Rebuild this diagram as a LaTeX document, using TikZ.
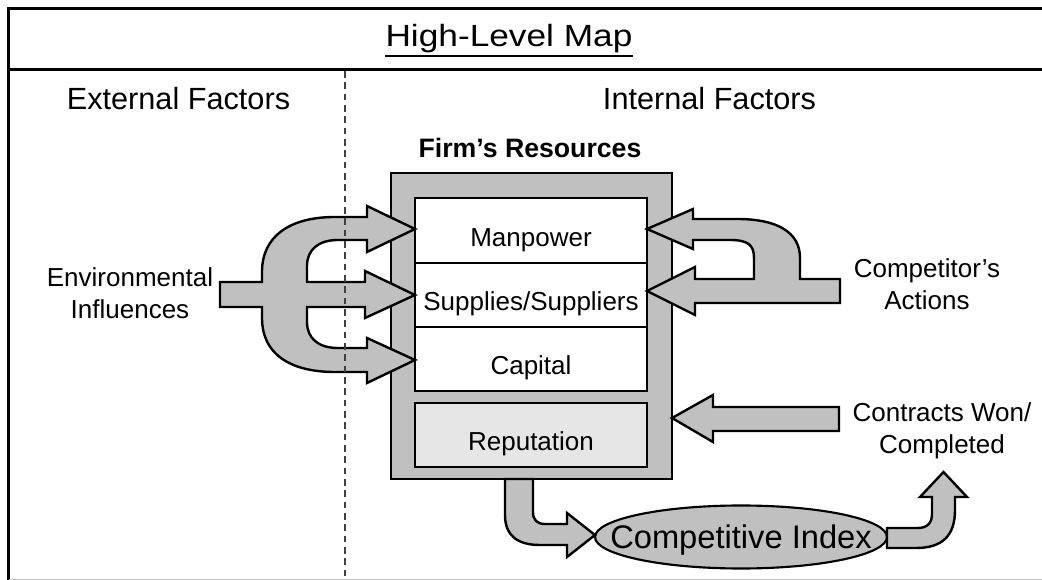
\documentclass[tikz,border=0pt]{standalone}
\usepackage{fontspec}
\setmainfont{Liberation Sans}
\usetikzlibrary{shapes.geometric}
\definecolor{boxgrey}{HTML}{C0C0C0}
\definecolor{repgrey}{HTML}{E6E6E6}
\newcommand{\boxtxt}[1]{\raisebox{-12pt}[0pt][0pt]{#1}}
\begin{document}
\begin{tikzpicture}[x=0.75pt,y=-0.75pt,
  blockarrow/.style={draw=black, fill=boxgrey, line width=1.8pt, line join=miter},
  resbox/.style={draw=black, line width=1.6pt, minimum width={232*0.75pt}, minimum height={64*0.75pt}, inner sep=0pt, font=\fontsize{19.5}{22.5}\selectfont},
  body/.style={font=\fontsize{19.5}{24}\selectfont, align=center, inner sep=0pt},
  headtxt/.style={font=\fontsize{23}{27}\selectfont, inner sep=0pt}
]
\useasboundingbox (0,0) rectangle (1042,580);
\fill[white] (0,0) rectangle (1042,580);
% frame
\draw[line width=2.2pt] (8.5,600) -- (8.5,8.5) -- (1060,8.5);
\draw[line width=2.2pt] (8.5,69.5) -- (1060,69.5);
\draw[line width=0.8pt, black!25] (8.5,579.5) -- (1060,579.5);
% title and headings
\node[anchor=base, inner sep=0pt, font=\fontsize{23}{27}\selectfont] (title) at (509,47) {\scalebox{1.15}[1]{High-Level Map}};
\draw[line width=1.3pt] ([yshift=-2pt]title.south west) -- ([yshift=-2pt]title.south east);
\node[headtxt, anchor=base] (ext) at (178.5,110) {External Factors};
\node[headtxt, anchor=base] (int) at (709.5,110) {Internal Factors};
\node[anchor=base, inner sep=0pt, font=\bfseries\fontsize{20}{24}\selectfont] (firm) at (530,158) {Firm’s Resources};
% resources
\node[draw=black, line width=1.6pt, fill=boxgrey, minimum width={281*0.75pt}, minimum height={306*0.75pt}, inner sep=0pt] (res) at (531.5,326) {};
\node[resbox, fill=white, minimum height={65*0.75pt}] (man) at (531,230.5) {\boxtxt{Manpower}};
\node[resbox, fill=white] (sup) at (531,295) {\boxtxt{Supplies/Suppliers}};
\node[resbox, fill=white] (cap) at (531,359) {\boxtxt{Capital}};
\node[resbox, fill=repgrey] (rep) at (531,435) {\boxtxt{Reputation}};
% side labels
\node[body, anchor=north] (env) at (130,267) {Environmental\\Influences};
\node[body, anchor=north] (comp) at (927,258) {Competitor's\\Actions};
\node[body, anchor=north] (contr) at (942,402) {Contracts Won/\\Completed};
% competitive index
\node[ellipse, draw=black, line width=1.6pt, fill=boxgrey, minimum width={292*0.75pt}, minimum height={63*0.75pt}, inner sep=0pt] (ci) at (741,537) {};
\node[font=\fontsize{24.5}{28}\selectfont, inner sep=0pt, text depth=0pt] (citxt) at (ci.center) {Competitive Index};
% left composite arrow (environmental influences)
\draw[blockarrow] (220,282) -- (262,282) -- (262,272)
  .. controls (262,236) and (290,217) .. (335,217) -- (367,217) -- (367,206) -- (415,229) -- (367,252) -- (367,240) -- (338,240)
  .. controls (318,240) and (307,250) .. (307,266) -- (307,282) -- (365,282) -- (365,271) -- (415,295) -- (365,318) -- (365,307) -- (307,307) -- (307,322)
  .. controls (307,338) and (318,348) .. (338,348) -- (367,348) -- (367,338) -- (415,360) -- (367,383) -- (367,372) -- (335,372)
  .. controls (290,372) and (262,354) .. (262,318) -- (262,307) -- (220,307) -- cycle;
% right composite arrow (competitor's actions)
\draw[blockarrow] (840,279) -- (800,279) -- (800,258)
  .. controls (800,232) and (777,219) .. (737,219) -- (693,219) -- (693,209) -- (647,229) -- (693,249) -- (693,240) -- (730,240)
  .. controls (748,240) and (754,245) .. (754,258) -- (754,279) -- (695,279) -- (695,267) -- (647,291) -- (695,315) -- (695,303) -- (840,303) -- cycle;
% contracts arrow
\draw[blockarrow] (839,407) -- (713,407) -- (713,395) -- (672,418) -- (713,442) -- (713,431) -- (839,431) -- cycle;
% reputation -> competitive index
\draw[blockarrow] (505,479) -- (505,515) .. controls (505,536) and (518,545) .. (540,545) -- (567,545) -- (567,557) -- (595,535) -- (567,513) -- (567,524) -- (545,524)
  .. controls (537,524) and (533,520) .. (533,512) -- (533,479) -- cycle;
% competitive index -> contracts
\draw[blockarrow] (887,528) -- (918,528) .. controls (927,528) and (932,523) .. (932,514) -- (932,497) -- (920,497) -- (943.5,472) -- (967,497) -- (955,497) -- (955,510)
  .. controls (955,536) and (942,548) .. (916,548) -- (887,548) -- cycle;
% divider
\draw[line width=1pt, black!75, dash pattern=on 5pt off 3.5pt] (345,71) -- (345,580);
\end{tikzpicture}
\end{document}
